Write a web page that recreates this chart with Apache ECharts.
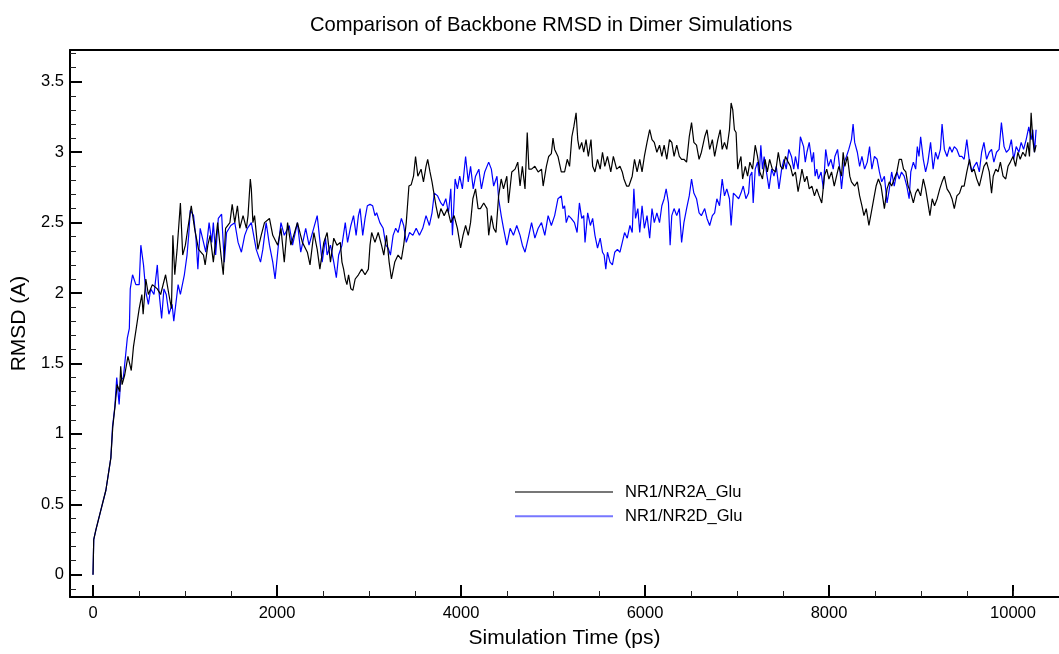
<!DOCTYPE html>
<html>
<head>
<meta charset="utf-8">
<script src="https://cdn.jsdelivr.net/npm/echarts@6/dist/echarts.min.js"></script>
<style>html,body{margin:0;padding:0;background:#fff;}#c{width:1059px;height:654px;}</style>
</head>
<body>
<div id="c"></div>
<script>
// ---- data ----
const seriesNames = ['NR1/NR2A_Glu', 'NR1/NR2D_Glu'];
const xMajorTicks = [0, 2000, 4000, 6000, 8000, 10000];
const xMinorTicks = [500,1000,1500,2500,3000,3500,4500,5000,5500,6500,7000,7500,8500,9000,9500,10000];
const yMajorTicks = [0, 0.5, 1, 1.5, 2, 2.5, 3, 3.5];
const yMinorTicks = [-0.1,0.1,0.2,0.3,0.4,0.6,0.7,0.8,0.9,1.1,1.2,1.3,1.4,1.6,1.7,1.8,1.9,2.1,2.2,2.3,2.4,2.6,2.7,2.8,2.9,3.1,3.2,3.3,3.4,3.6,3.7];

const timeA = [0,8,32,86,140,194,215,240,262,290,301,316,345,380,416,440,470,502,531,545,574,602,645,699,735,789,825,853,868,889,914,950,975,1004,1068,1104,1147,1201,1219,1248,1273,1308,1355,1391,1416,1441,1488,1513,1541,1570,1595,1631,1667,1685,1710,1721,1738,1756,1792,1828,1864,1918,1954,2008,2043,2079,2115,2151,2222,2276,2330,2359,2401,2437,2466,2509,2545,2581,2617,2652,2688,2706,2724,2742,2760,2778,2803,2825,2850,2885,2921,2957,2993,3011,3029,3065,3100,3136,3161,3190,3219,3244,3280,3316,3352,3377,3405,3434,3459,3484,3506,3531,3566,3592,3620,3638,3663,3685,3710,3728,3756,3781,3817,3853,3889,3925,3961,3996,4022,4050,4079,4104,4129,4158,4186,4211,4247,4283,4301,4330,4355,4380,4409,4437,4462,4498,4516,4552,4588,4617,4642,4667,4696,4720,4738,4767,4803,4839,4875,4893,4928,4953,4982,5000,5018,5054,5090,5126,5155,5180,5205,5226,5251,5269,5287,5312,5334,5359,5384,5413,5431,5456,5484,5513,5538,5563,5592,5628,5656,5692,5728,5753,5771,5800,5825,5861,5886,5914,5943,5968,5993,6022,6051,6076,6101,6129,6158,6183,6208,6237,6266,6291,6316,6345,6373,6398,6423,6452,6481,6506,6531,6560,6588,6613,6649,6674,6703,6732,6757,6792,6818,6839,6864,6889,6918,6936,6954,6972,6990,7008,7026,7043,7061,7090,7115,7140,7169,7198,7223,7248,7277,7305,7330,7355,7384,7420,7449,7474,7499,7527,7556,7581,7606,7635,7664,7689,7706,7735,7760,7785,7814,7842,7867,7892,7921,7950,7975,7999,8028,8057,8082,8107,8136,8154,8172,8201,8226,8244,8279,8308,8333,8358,8380,8405,8434,8459,8487,8512,8537,8566,8602,8631,8656,8681,8709,8738,8763,8788,8810,8835,8860,8889,8917,8942,8967,8996,9025,9050,9075,9097,9122,9147,9176,9204,9229,9254,9283,9312,9337,9362,9390,9419,9444,9469,9498,9527,9552,9577,9606,9634,9659,9684,9713,9742,9767,9785,9813,9838,9863,9892,9921,9946,9971,10000,10028,10053,10078,10107,10136,10161,10179,10197,10215,10233,10251];
const rmsdA = [0,0.25,0.32,0.46,0.60,0.83,1.05,1.20,1.35,1.30,1.48,1.35,1.42,1.55,1.45,1.62,1.75,1.89,1.99,1.85,2.10,1.99,2.06,2.03,1.99,2.13,1.99,1.89,2.41,2.13,2.31,2.64,2.27,2.34,2.62,2.46,2.31,2.27,2.20,2.34,2.41,2.22,2.50,2.27,2.13,2.46,2.50,2.63,2.50,2.62,2.46,2.55,2.46,2.55,2.81,2.74,2.50,2.55,2.31,2.41,2.50,2.53,2.41,2.34,2.46,2.22,2.50,2.34,2.50,2.36,2.29,2.20,2.43,2.31,2.17,2.36,2.43,2.22,2.39,2.34,2.36,2.22,2.17,2.10,2.06,2.13,2.03,2.02,2.10,2.13,2.17,2.13,2.17,2.34,2.43,2.36,2.43,2.34,2.27,2.41,2.22,2.10,2.22,2.27,2.24,2.34,2.50,2.76,2.77,2.83,2.97,2.83,2.88,2.79,2.90,2.95,2.86,2.79,2.69,2.62,2.53,2.60,2.55,2.60,2.50,2.55,2.46,2.32,2.41,2.48,2.41,2.50,2.67,2.74,2.60,2.60,2.64,2.60,2.41,2.55,2.46,2.43,2.69,2.81,2.74,2.83,2.64,2.86,2.88,2.93,2.76,2.90,2.74,3.14,2.88,2.88,2.90,2.86,2.88,2.76,2.90,2.97,2.99,3.10,3.02,2.97,2.86,2.86,2.95,2.90,3.11,3.18,3.28,3.09,3.02,3.07,3.00,3.09,2.97,3.09,2.90,2.86,2.95,2.88,3.00,2.90,2.97,2.86,2.97,2.88,2.90,2.86,2.81,2.76,2.76,2.83,2.95,2.86,2.95,2.86,2.97,3.07,3.16,3.09,3.07,3.00,3.05,2.97,3.05,2.95,3.09,3.07,2.97,3.05,2.97,2.95,2.95,2.93,3.11,3.21,3.07,3.05,2.95,3.00,3.11,3.16,3.02,3.09,2.97,3.09,3.16,3.02,3.07,3.02,3.16,3.35,3.30,3.16,3.14,2.88,2.93,2.97,2.81,2.90,2.83,2.93,2.88,3.05,2.97,2.86,2.81,2.95,2.86,2.95,2.88,2.86,3.00,2.90,2.88,2.97,2.93,2.90,2.83,2.86,2.72,2.81,2.88,2.79,2.83,2.74,2.76,2.69,2.74,2.69,2.64,2.83,2.88,2.81,2.86,2.76,2.83,2.90,2.83,3.00,2.90,2.97,2.83,2.79,2.76,2.79,2.69,2.62,2.55,2.60,2.48,2.57,2.67,2.76,2.81,2.76,2.60,2.74,2.79,2.76,2.81,2.86,2.95,2.95,2.88,2.86,2.76,2.71,2.64,2.71,2.74,2.69,2.81,2.74,2.64,2.55,2.67,2.62,2.67,2.74,2.79,2.83,2.74,2.71,2.67,2.60,2.69,2.71,2.76,2.76,2.86,2.95,2.86,2.88,2.81,2.76,2.83,2.90,2.93,2.86,2.71,2.83,2.88,2.86,2.93,2.83,2.81,2.90,2.93,2.97,2.90,3.00,2.95,3.00,2.97,3.07,2.97,3.28,3.09,3.00,3.05];

const timeD = [0,8,32,86,140,194,212,237,258,284,300,330,373,395,405,430,466,502,520,549,574,602,627,663,699,717,746,771,796,825,860,878,925,950,993,1022,1040,1058,1093,1119,1140,1165,1201,1226,1262,1291,1308,1333,1362,1398,1427,1452,1498,1541,1577,1613,1649,1678,1721,1774,1821,1846,1882,1918,1954,1979,2015,2043,2079,2133,2169,2222,2258,2312,2348,2437,2491,2527,2545,2581,2617,2645,2670,2706,2742,2767,2803,2832,2860,2885,2903,2932,2957,2982,3011,3040,3065,3083,3118,3154,3183,3208,3233,3262,3290,3316,3352,3377,3405,3441,3477,3513,3548,3584,3620,3656,3685,3710,3746,3781,3806,3835,3864,3889,3907,3936,3961,3986,4015,4050,4079,4104,4133,4158,4194,4222,4258,4301,4330,4355,4391,4409,4437,4462,4498,4534,4570,4606,4642,4667,4696,4731,4767,4803,4839,4875,4911,4947,4982,5018,5054,5090,5108,5126,5144,5169,5198,5233,5262,5287,5312,5334,5348,5377,5406,5431,5456,5484,5513,5538,5556,5574,5592,5620,5646,5671,5700,5728,5753,5778,5807,5836,5861,5879,5897,5922,5943,5968,5993,6022,6051,6076,6101,6129,6158,6183,6208,6230,6255,6273,6291,6316,6345,6373,6398,6423,6452,6481,6506,6531,6560,6588,6613,6649,6674,6703,6732,6757,6781,6810,6839,6864,6889,6918,6936,6961,6990,7018,7043,7068,7097,7126,7140,7162,7176,7198,7223,7241,7259,7277,7295,7320,7348,7377,7402,7427,7456,7485,7510,7535,7563,7592,7617,7635,7664,7689,7706,7724,7742,7760,7785,7814,7832,7849,7867,7885,7914,7939,7964,7993,8021,8046,8064,8093,8118,8136,8165,8190,8215,8244,8262,8279,8308,8333,8358,8387,8416,8441,8466,8494,8523,8548,8573,8602,8631,8656,8681,8709,8738,8763,8788,8817,8846,8871,8889,8917,8942,8960,8978,8996,9025,9050,9075,9104,9132,9158,9183,9211,9229,9254,9283,9312,9337,9362,9390,9419,9444,9469,9498,9527,9552,9577,9606,9634,9659,9684,9713,9742,9767,9792,9821,9849,9874,9903,9928,9957,9982,10007,10035,10064,10089,10115,10143,10172,10197,10215,10233,10251];
const rmsdD = [0,0.25,0.32,0.46,0.60,0.83,1.05,1.19,1.40,1.21,1.38,1.40,1.68,1.75,2.03,2.13,2.06,2.06,2.34,2.20,2.01,1.92,2.03,1.99,2.20,2.01,1.82,2.03,1.99,1.85,1.92,1.80,2.06,1.99,2.13,2.27,2.41,2.59,2.55,2.39,2.17,2.46,2.36,2.29,2.50,2.36,2.50,2.27,2.53,2.56,2.22,2.43,2.48,2.50,2.36,2.29,2.41,2.46,2.50,2.31,2.22,2.31,2.50,2.34,2.22,2.10,2.34,2.50,2.41,2.48,2.34,2.50,2.29,2.46,2.34,2.55,2.22,2.39,2.27,2.34,2.22,2.11,2.27,2.34,2.50,2.36,2.48,2.55,2.41,2.55,2.60,2.41,2.53,2.62,2.63,2.62,2.55,2.57,2.50,2.46,2.34,2.32,2.27,2.41,2.46,2.43,2.53,2.48,2.36,2.43,2.41,2.46,2.41,2.46,2.55,2.48,2.57,2.71,2.69,2.64,2.62,2.67,2.57,2.74,2.41,2.81,2.74,2.83,2.74,2.97,2.79,2.90,2.74,2.83,2.88,2.74,2.86,2.93,2.88,2.76,2.83,2.67,2.55,2.46,2.34,2.46,2.41,2.48,2.41,2.34,2.29,2.39,2.50,2.39,2.46,2.50,2.41,2.55,2.48,2.55,2.67,2.69,2.60,2.62,2.50,2.55,2.53,2.50,2.43,2.64,2.53,2.55,2.36,2.57,2.48,2.53,2.41,2.32,2.39,2.29,2.27,2.17,2.29,2.22,2.20,2.29,2.31,2.29,2.36,2.43,2.39,2.48,2.43,2.74,2.53,2.60,2.43,2.62,2.46,2.55,2.39,2.60,2.50,2.57,2.50,2.62,2.67,2.74,2.64,2.34,2.55,2.60,2.55,2.60,2.36,2.50,2.60,2.69,2.81,2.71,2.67,2.57,2.55,2.60,2.53,2.48,2.55,2.57,2.67,2.62,2.81,2.69,2.74,2.67,2.48,2.71,2.69,2.67,2.71,2.76,2.67,2.71,2.83,2.86,2.64,2.88,2.93,2.83,3.05,2.88,2.97,2.86,2.74,2.88,2.83,2.90,2.74,2.88,2.95,2.88,3.02,2.97,2.88,2.97,2.88,3.11,3.11,3.04,2.93,3.00,3.07,2.93,3.00,2.83,2.88,2.81,2.86,2.74,3.02,2.90,2.95,2.88,2.97,3.02,2.88,2.74,2.93,2.97,3.02,3.09,3.20,3.07,3.00,2.90,2.97,2.88,2.93,3.04,2.88,2.97,2.95,2.86,2.79,2.83,2.64,2.74,2.86,2.76,2.86,2.81,2.86,2.83,2.76,2.67,2.86,2.93,2.88,3.04,2.97,3.11,2.95,2.86,2.93,3.07,2.88,3.00,2.95,3.02,3.20,3.02,2.97,3.04,3.00,3.04,3.02,2.97,2.97,2.95,3.09,2.93,2.86,2.90,2.93,2.86,3.00,3.07,2.95,3.00,3.02,2.93,3.00,3.02,3.21,3.04,3.00,3.02,3.09,2.95,3.04,3.00,3.07,3.02,3.09,3.18,3.09,3.16,3.00,3.16];

// ---- chart ----
const pairs = (xs, ys) => xs.map((x, i) => [x, ys[i]]);
const FONT = '"Liberation Sans", Arial, Helvetica, sans-serif';
const X_MIN = -250, X_MAX = 10500, Y_MIN = -0.158, Y_MAX = 3.726;
const plain = v => String(v);

const chart = echarts.init(document.getElementById('c'), null, {renderer: 'canvas'});
chart.setOption({
  animation: false,
  backgroundColor: '#ffffff',
  textStyle: {fontFamily: FONT, color: '#000'},
  title: {
    text: 'Comparison of Backbone RMSD in Dimer Simulations',
    left: 305, top: 10,
    textStyle: {fontFamily: FONT, fontSize: 20.2, fontWeight: 'normal', color: '#000'}
  },
  legend: {
    orient: 'vertical',
    left: 515, top: 483, padding: 0,
    itemWidth: 98, itemHeight: 2, itemGap: 6.3,
    icon: 'rect',
    textStyle: {fontFamily: FONT, fontSize: 16.5, color: '#000', lineHeight: 18, padding: [0, 0, 0, 7]},
    data: [
      {name: seriesNames[0], itemStyle: {color: '#777777'}},
      {name: seriesNames[1], itemStyle: {color: '#7777ff'}}
    ]
  },
  grid: {left: 70, right: -11, top: 50, bottom: 53.3, containLabel: false},
  xAxis: [
    {
      type: 'value', min: X_MIN, max: X_MAX, position: 'bottom', offset: 0,
      name: 'Simulation Time (ps)', nameLocation: 'middle', nameGap: 31,
      nameTextStyle: {fontFamily: FONT, fontSize: 21, color: '#000'},
      axisLine: {show: true, onZero: false, lineStyle: {color: '#000', width: 2}},
      axisTick: {show: true, inside: true, length: 12, customValues: xMajorTicks, lineStyle: {color: '#000', width: 2}},
      axisLabel: {show: true, customValues: xMajorTicks, formatter: plain, margin: 8, fontFamily: FONT, fontSize: 16.5, color: '#000'},
      splitLine: {show: false}
    },
    {
      type: 'value', min: X_MIN, max: X_MAX, position: 'bottom', offset: 0,
      axisLine: {show: false, onZero: false},
      axisTick: {show: true, inside: true, length: 6, customValues: xMinorTicks, lineStyle: {color: '#222', width: 1}},
      axisLabel: {show: false},
      splitLine: {show: false}
    },
    {
      type: 'value', min: X_MIN, max: X_MAX, position: 'top', offset: 0,
      axisLine: {show: true, onZero: false, lineStyle: {color: '#000', width: 2}},
      axisTick: {show: false}, axisLabel: {show: false}, splitLine: {show: false}
    }
  ],
  yAxis: [
    {
      type: 'value', min: Y_MIN, max: Y_MAX, position: 'left', offset: 0,
      name: 'RMSD (A)', nameLocation: 'middle', nameGap: 38,
      nameTextStyle: {fontFamily: FONT, fontSize: 21, color: '#000'},
      axisLine: {show: true, onZero: false, lineStyle: {color: '#000', width: 2}},
      axisTick: {show: true, inside: true, length: 12, customValues: yMajorTicks, lineStyle: {color: '#000', width: 2}},
      axisLabel: {show: true, customValues: yMajorTicks, formatter: plain, margin: 6, fontFamily: FONT, fontSize: 16.5, color: '#000'},
      splitLine: {show: false}
    },
    {
      type: 'value', min: Y_MIN, max: Y_MAX, position: 'left', offset: 0,
      axisLine: {show: false, onZero: false},
      axisTick: {show: true, inside: true, length: 6, customValues: yMinorTicks, lineStyle: {color: '#222', width: 1}},
      axisLabel: {show: false},
      splitLine: {show: false}
    }
  ],
  series: [
    {
      name: seriesNames[0], type: 'line', xAxisIndex: 0, yAxisIndex: 0,
      data: pairs(timeA, rmsdA), showSymbol: false, symbol: 'none',
      lineStyle: {color: '#000000', width: 1.2}, itemStyle: {color: '#000000'}, z: 3
    },
    {
      name: seriesNames[1], type: 'line', xAxisIndex: 0, yAxisIndex: 0,
      data: pairs(timeD, rmsdD), showSymbol: false, symbol: 'none',
      lineStyle: {color: '#0000ff', width: 1.2}, itemStyle: {color: '#0000ff'}, z: 2
    }
  ]
});
</script>
</body>
</html>
